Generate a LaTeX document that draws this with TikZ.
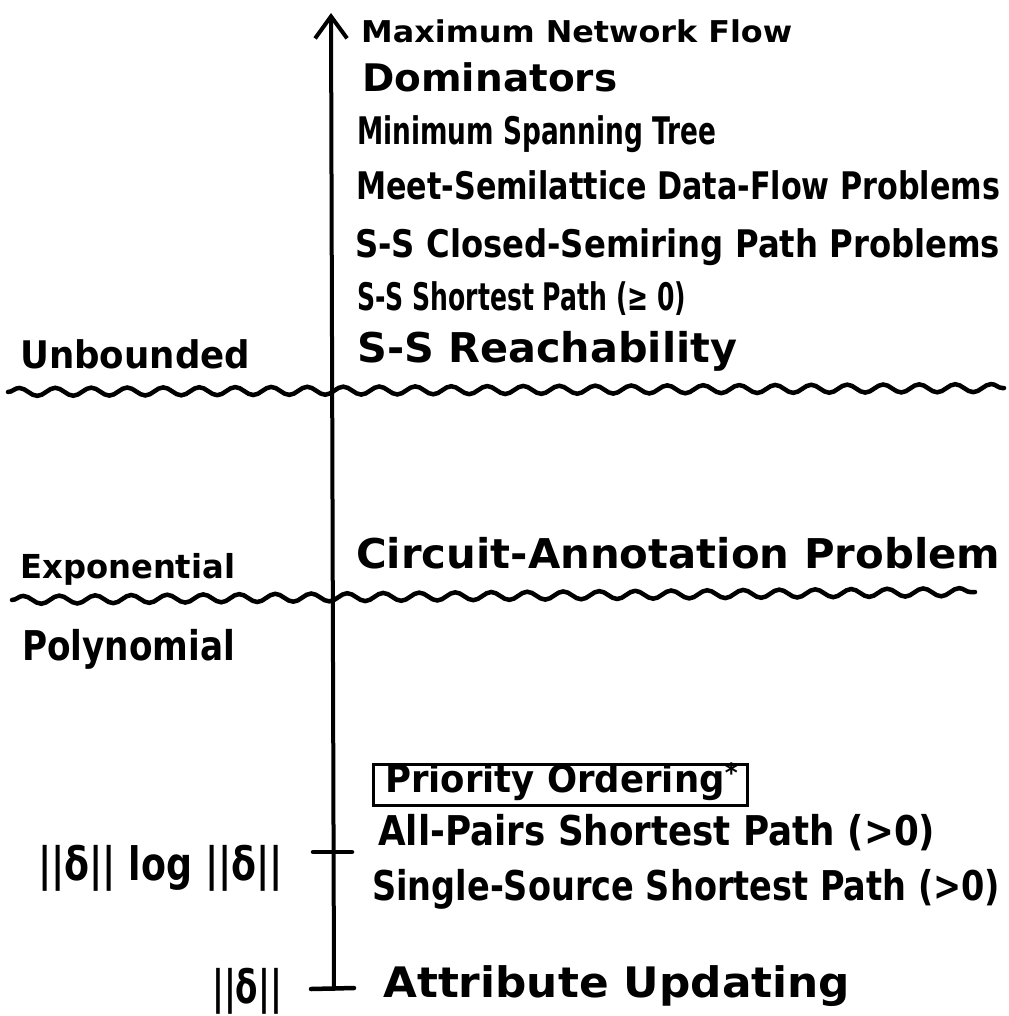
\documentclass[tikz,border=0pt]{standalone}
\usepackage{fontspec}
\setmainfont{DejaVu Sans}
\usetikzlibrary{arrows.meta,decorations.pathmorphing}
% text stretched to a given width, natural height kept
\newcommand{\hw}[3]{\fontsize{#2}{#2}\selectfont\resizebox{#1pt}{\height}{#3}}
\begin{document}
\begin{tikzpicture}[x=1pt,y=-1pt,
  lbl/.style={anchor=base west, inner sep=0pt, font=\bfseries},
  axisline/.style={line width=4pt, line cap=round,
    -{Straight Barb[length=22pt,width=32pt,line width=4pt]}},
  tick/.style={line width=4.5pt, line cap=round},
  boxline/.style={line width=3pt},
  wave/.style={line width=4.5pt, line cap=round, decorate,
    decoration={snake, segment length=36pt, amplitude=4pt}}]
\useasboundingbox (0,0) rectangle (1008,1016);

% the complexity axis
\coordinate (bot) at (334,989);
\coordinate (top) at (331,13);
\draw[axisline] (bot) -- (top);

% ticks on the axis
\coordinate (t1a) at (313,852);
\coordinate (t1b) at (352,852);
\coordinate (t0a) at (311,989);
\coordinate (t0b) at (354,988);
\draw[tick] (t1a) -- (t1b);
\draw[tick] (t0a) -- (t0b);

% region boundaries
\coordinate (w1a) at (8,392);
\coordinate (w1b) at (1004,388);
\coordinate (w2a) at (12,600);
\coordinate (w2b) at (975,592);
\draw[wave] (w1a) -- (w1b);
\draw[wave] (w2a) -- (w2b);

% problems
\node[lbl] (mnf) at (361,43)  {\hw{431}{30}{Maximum Network Flow}};
\node[lbl] (dom) at (362,92)  {\hw{255}{38}{Dominators}};
\node[lbl] (mst) at (357,145) {\hw{359}{38}{Minimum Spanning Tree}};
\node[lbl] (msd) at (356,200) {\hw{644}{38}{Meet-Semilattice Data-Flow Problems}};
\node[lbl] (csp) at (355,257) {\hw{645}{38}{S-S Closed-Semiring Path Problems}};
\node[lbl] (ssp) at (357,310) {\hw{329}{38}{S-S Shortest Path (≥ 0)}};
\node[lbl] (ssr) at (357,362) {\hw{380}{41}{S-S Reachability}};
\node[lbl] (cap) at (356,568) {\hw{644}{41}{Circuit-Annotation Problem}};
\coordinate (pb1) at (373,764);
\coordinate (pb2) at (747,805);
\draw[boxline] (pb1) rectangle (pb2);
\node[lbl] (pri) at (385,792) {\hw{353}{38}{Priority Ordering\textsuperscript{*}}};
\node[lbl] (aps) at (378,845) {\hw{557}{41}{All-Pairs Shortest Path (>0)}};
\node[lbl] (sss) at (372,900) {\hw{628}{41}{Single-Source Shortest Path (>0)}};
\node[lbl] (atu) at (383,997) {\hw{467}{42}{Attribute Updating}};

% complexity classes
\node[lbl] (unb) at (20,368)  {\hw{230}{38}{Unbounded}};
\node[lbl] (exp) at (20,578)  {\hw{215}{33}{Exponential}};
\node[lbl] (pol) at (22,660)  {\hw{213}{41}{Polynomial}};
\node[lbl] (nlg) at (38,880)  {\hw{245}{46}{||δ|| log ||δ||}};
\node[lbl] (lin) at (212,1003){\hw{70}{46}{||δ||}};
\end{tikzpicture}
\end{document}
